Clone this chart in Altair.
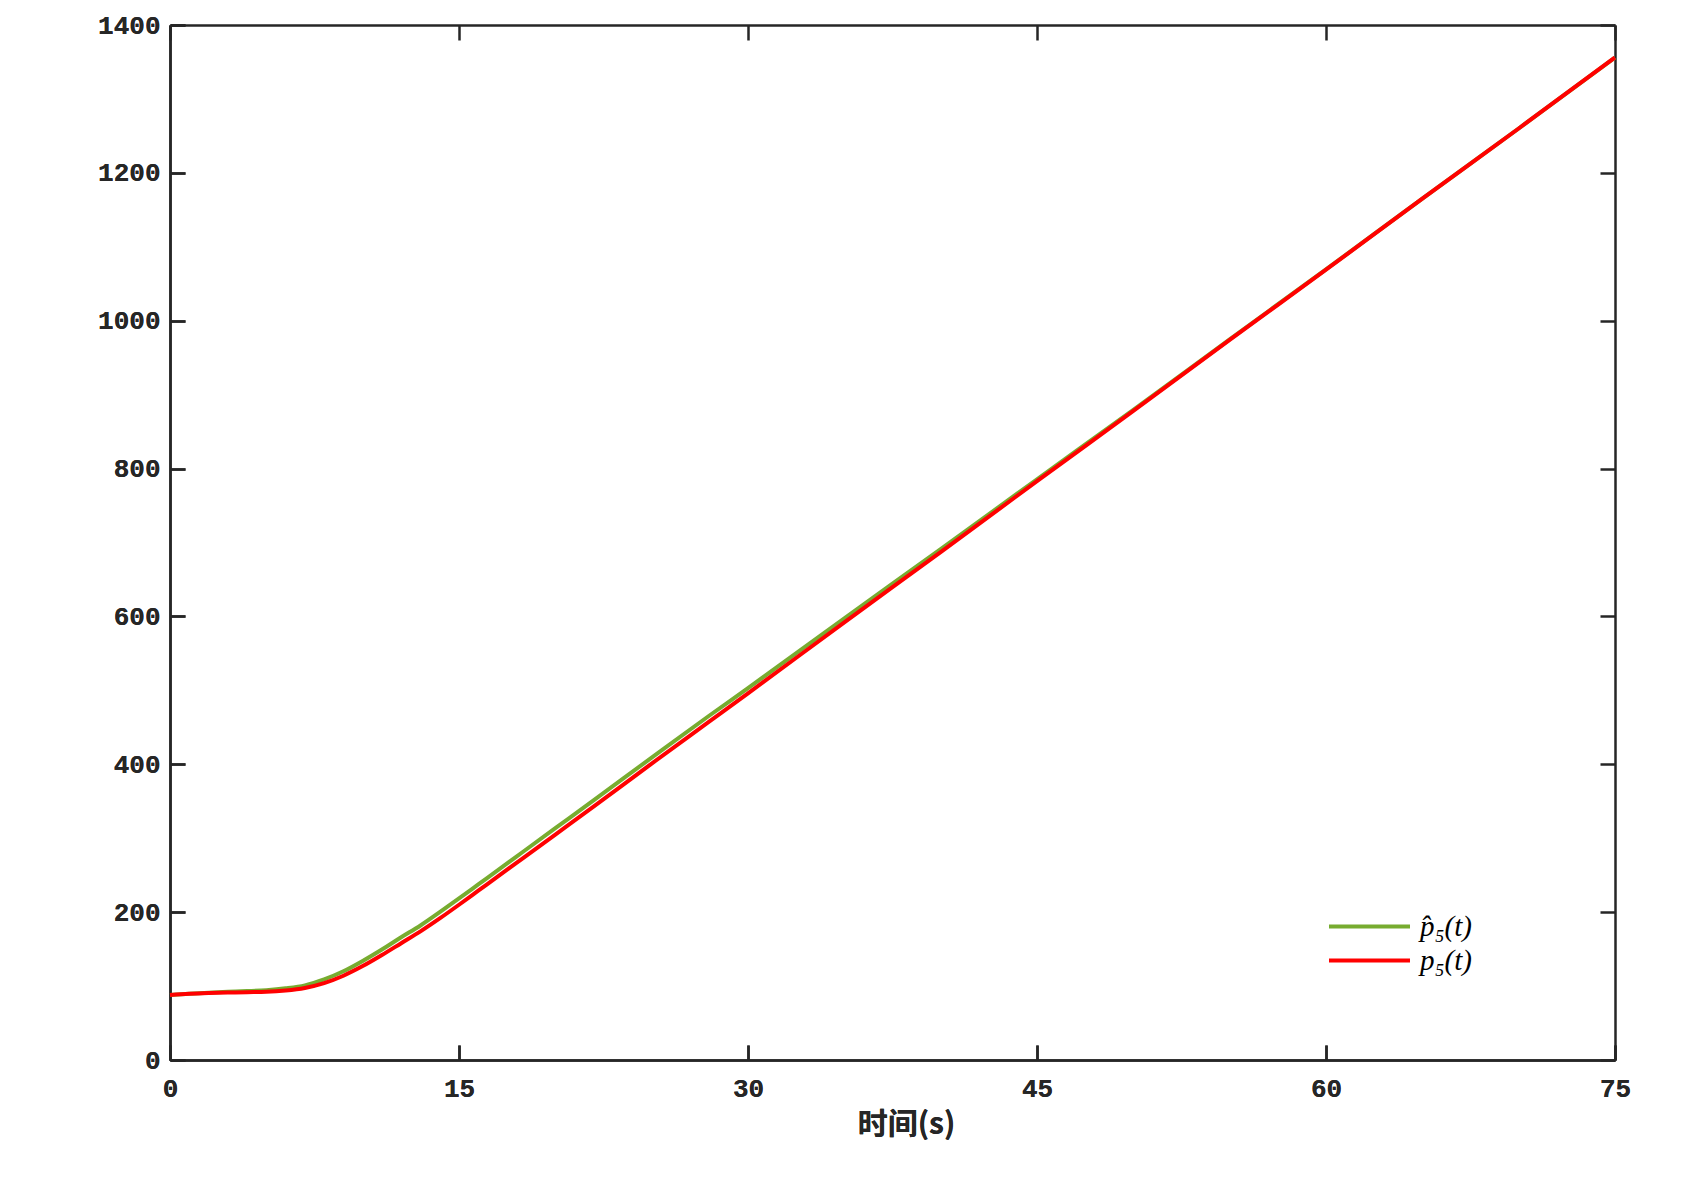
import altair as alt
import pandas as pd

# time (s)
t = [0, 1, 2, 3, 4, 5, 6, 7, 8, 9, 10, 11, 12, 13, 14, 15, 16, 18, 20, 22,
     25, 28, 30, 35, 40, 45, 50, 55, 60, 65, 70, 75]
# p5(t) (red)
p5 = [88, 89.5, 90.5, 91.2, 91.7, 92.2, 94, 97.5, 104, 114, 127, 142, 158, 174,
      191.5, 210, 229, 267, 305, 343, 401, 458, 496, 592, 687, 783, 878, 974,
      1069, 1165, 1260, 1356]
# p5 hat (green)
p5_hat = [88, 89.7, 91, 92.2, 93.2, 94.5, 97, 101, 109, 120, 134, 149.5, 166, 182,
          200, 218.5, 237.5, 275.5, 313.5, 351.5, 409, 466, 503, 597.5, 691,
          785.5, 879.5, 974.8, 1069.4, 1165.2, 1260, 1356]

series_names = ["p\u0302\u2085(t)", "p\u2085(t)"]
series_colors = ["#77AC30", "#FF0000"]
x_ticks = [0, 15, 30, 45, 60, 75]
y_ticks = [0, 200, 400, 600, 800, 1000, 1200, 1400]

df = pd.concat([
    pd.DataFrame({"t": t, "v": p5_hat, "s": series_names[0]}),
    pd.DataFrame({"t": t, "v": p5, "s": series_names[1]}),
], ignore_index=True)

xscale = alt.Scale(domain=[0, 75], nice=False, zero=False)
yscale = alt.Scale(domain=[0, 1400], nice=False)

tick_in = alt.ExprRef(expr="-15")

x_bottom = alt.X("t:Q", scale=xscale, title="时间(s)",
                 axis=alt.Axis(values=x_ticks, orient="bottom", tickSize=tick_in,
                               format="d", labelPadding=30, titlePadding=8,
                               labelFlush=False, titleX=736))
y_left = alt.Y("v:Q", scale=yscale, title=None,
               axis=alt.Axis(values=y_ticks, orient="left", tickSize=tick_in,
                             format="d", labelPadding=25))

color = alt.Color("s:N", scale=alt.Scale(domain=series_names, range=series_colors),
                  legend=alt.Legend(title=None, orient="none", legendX=1185, legendY=887,
                                    symbolType="M-4,0H4", symbolSize=410,
                                    symbolStrokeWidth=4, labelFont="Liberation Serif",
                                    labelFontStyle="italic", labelFontSize=29,
                                    labelColor="#000000", rowPadding=4, labelOffset=36))

base = alt.Chart(df)

green = base.transform_filter(alt.datum.s == series_names[0]).mark_line(
    strokeWidth=4, interpolate="monotone").encode(x=x_bottom, y=y_left, color=color)
red = base.transform_filter(alt.datum.s == series_names[1]).mark_line(
    strokeWidth=4, interpolate="monotone").encode(x=x_bottom, y=y_left, color=color)

mirror = base.mark_line(opacity=0).encode(
    x=alt.X("t:Q", scale=xscale, title=None,
            axis=alt.Axis(values=x_ticks, orient="top", tickSize=tick_in, labels=False)),
    y=alt.Y("v:Q", scale=yscale, title=None,
            axis=alt.Axis(values=y_ticks, orient="right", tickSize=tick_in, labels=False)),
)

chart = alt.layer(green, red, mirror).resolve_axis(x="independent", y="independent").properties(
    width=1445, height=1035,
    background="white",
    autosize=alt.AutoSizeParams(type="none"),
    padding={"left": 162, "top": 17, "right": 76, "bottom": 100},
).configure_view(stroke=None).configure_axis(
    grid=False,
    domainColor="#262626", domainWidth=2.5,
    tickColor="#262626", tickWidth=2.5,
    labelFont="Liberation Mono", labelFontSize=26, labelFontWeight="bold",
    labelColor="#262626",
    titleFont="Noto Sans CJK SC", titleFontSize=30, titleFontWeight="bold",
    titleColor="#262626",
)

chart.save("out.html", embed_options={"renderer": "svg", "actions": False})
